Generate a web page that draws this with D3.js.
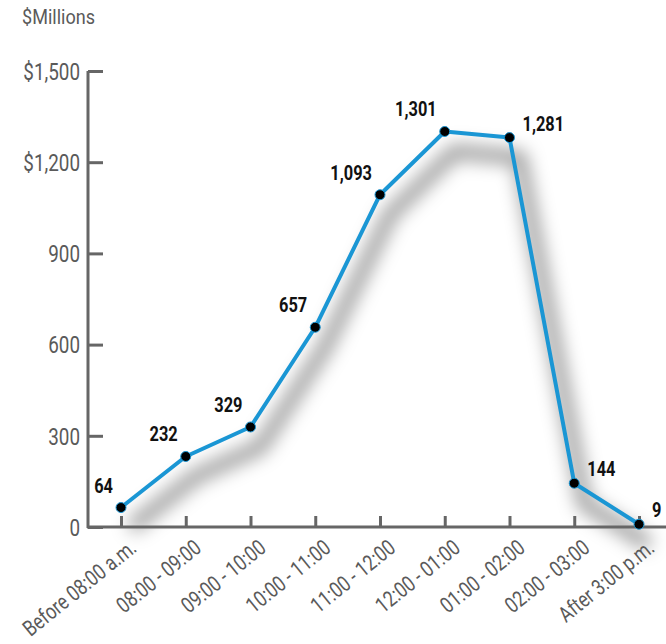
<!DOCTYPE html>
<html><head><meta charset="utf-8">
<script src="https://cdn.jsdelivr.net/npm/d3@7"></script>
<style>
body{margin:0;background:#fff;}
text{font-family:"Roboto","Liberation Sans",sans-serif;}
</style></head>
<body>
<svg id="c" width="666" height="644"></svg>
<script>
const categories = ["Before 08:00 a.m.","08:00 - 09:00","09:00 - 10:00","10:00 - 11:00","11:00 - 12:00","12:00 - 01:00","01:00 - 02:00","02:00 - 03:00","After 3:00 p.m."];
const values = [64,232,329,657,1093,1301,1281,144,9];
const valueLabels = ["64","232","329","657","1,093","1,301","1,281","144","9"];
const labelSide = ["left","left","left","left","left","left","right","right","right"];
const yTicks = [0,300,600,900,1200,1500];
const yTickLabels = ["0","300","600","900","$1,200","$1,500"];
const unitLabel = "$Millions";

const SX = 0.82; // horizontal condensing
const SXL = 0.8;
const svg = d3.select("#c");
const x = d3.scalePoint().domain(categories).range([121,639]);
const y = d3.scaleLinear().domain([0,1500]).range([527,71]);
const axisColor = "#666";
const textGray = "#5a5a5a";

const defs = svg.append("defs");
const f = defs.append("filter").attr("id","sh").attr("x","-30%").attr("y","-30%").attr("width","160%").attr("height","160%");
f.append("feGaussianBlur").attr("stdDeviation",9);

const line = d3.line().x((d,i)=>x(categories[i])).y(d=>y(d));
// shadow
svg.append("path").datum(values)
  .attr("d",line)
  .attr("transform","translate(10,20)")
  .attr("fill","none").attr("stroke","#000").attr("stroke-opacity",0.4)
  .attr("stroke-width",14).attr("stroke-linejoin","round").attr("filter","url(#sh)");

// y axis
const yAxis = d3.axisLeft(y).tickValues(yTicks).tickSize(-15).tickPadding(0).tickFormat((d,i)=>yTickLabels[i]);
const gy = svg.append("g").attr("transform","translate(88,0)").call(yAxis);
gy.select(".domain").attr("d","M0,71V528").attr("stroke",axisColor).attr("stroke-width",3);
gy.selectAll(".tick line").attr("stroke",axisColor).attr("stroke-width",3);
gy.selectAll(".tick text").attr("fill",textGray).attr("font-size",23).attr("font-family","Roboto")
  .attr("x",-8/SX).attr("dy","0.36em").attr("transform",`scale(${SX},1)`);

// x axis
const xAxis = d3.axisBottom(x).tickSize(-11).tickFormat("");
const gx = svg.append("g").attr("transform","translate(0,527)").call(xAxis);
gx.select(".domain").attr("d","M87,0H666").attr("stroke",axisColor).attr("stroke-width",3);
gx.selectAll(".tick line").attr("stroke",axisColor).attr("stroke-width",3);

svg.append("g").selectAll("text").data(categories).join("text")
  .attr("transform",d=>`translate(${x(d)+7},538) rotate(-39) scale(${SXL},1)`)
  .attr("text-anchor","end").attr("dy","0.72em")
  .attr("font-size",22).attr("fill",textGray).text(d=>d);

svg.append("text").attr("transform",`translate(22,24) scale(0.86,1)`).attr("font-size",21).attr("fill",textGray).text(unitLabel);

// line
svg.append("path").datum(values).attr("d",line)
  .attr("fill","none").attr("stroke","#1a96d4").attr("stroke-width",4).attr("stroke-linejoin","round");

svg.append("g").selectAll("circle").data(values).join("circle")
  .attr("cx",(d,i)=>x(categories[i])).attr("cy",d=>y(d)).attr("r",5)
  .attr("fill","#000").attr("stroke","#1a96d4").attr("stroke-width",1);

svg.append("g").selectAll("text").data(values).join("text")
  .attr("transform",(d,i)=>{
    const lx = labelSide[i]==="left"? x(categories[i])-8 : x(categories[i])+13;
    const ly = labelSide[i]==="left"? y(d)-15 : y(d)-7;
    return `translate(${lx},${ly}) scale(${SX},1)`;
  })
  .attr("text-anchor",(d,i)=>labelSide[i]==="left"?"end":"start")
  .attr("font-size",20).attr("font-weight","bold").attr("fill","#111")
  .text((d,i)=>valueLabels[i]);
</script>
</body></html>
